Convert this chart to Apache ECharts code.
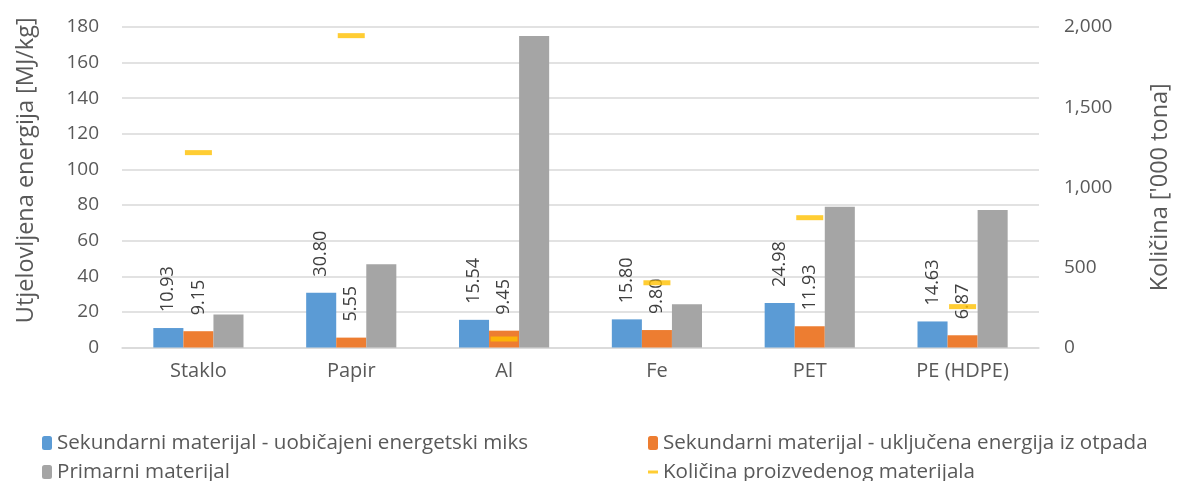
<!DOCTYPE html>
<html>
<head>
<meta charset="utf-8">
<script src="https://cdn.jsdelivr.net/npm/echarts@6/dist/echarts.min.js"></script>
<style>
  html, body { margin: 0; padding: 0; background: #fff; }
  #chart { width: 1180px; height: 481px; }
</style>
</head>
<body>
<div id="chart"></div>
<script>
// Materials on the category axis
const categories = ['Staklo', 'Papir', 'Al', 'Fe', 'PET', 'PE (HDPE)'];

// Embodied energy [MJ/kg]
const secondaryMix = [10.93, 30.80, 15.54, 15.80, 24.98, 14.63];
const secondaryWaste = [9.15, 5.55, 9.45, 9.80, 11.93, 6.87];
const primary = [18.6, 46.7, 174.9, 24.3, 79.1, 77.2];

// Produced quantity ['000 t]
const quantity = [1216, 1946, 53, 404, 810, 255];

const seriesNames = [
  'Sekundarni materijal - uobičajeni energetski miks',
  'Sekundarni materijal - uključena energija iz otpada',
  'Primarni materijal',
  'Količina proizvedenog materijala'
];

const FONT = '"Open Sans", Lato, sans-serif';
const TXT = '#595959';
const GRID = '#d9d9d9';

const valueLabel = {
  show: true,
  position: 'top',
  rotate: 90,
  align: 'left',
  verticalAlign: 'middle',
  distance: 16,
  color: '#404040',
  fontFamily: FONT,
  fontSize: 18,
  formatter: p => p.value.toFixed(2)
};

// one legend block per entry, laid out in two columns
function legendAt(left, top, entry) {
  return {
    left: left, top: top, orient: 'horizontal',
    itemWidth: 10, itemHeight: 14,
    textStyle: { color: TXT, fontSize: 20.6, fontFamily: FONT, lineHeight: 24 },
    data: [entry]
  };
}

const chart = echarts.init(document.getElementById('chart'), null, { renderer: 'canvas' });

chart.setOption({
  animation: false,
  textStyle: { fontFamily: FONT },
  grid: { left: 122, right: 134, top: 27, bottom: 133.5, containLabel: false },
  legend: [
    legendAt(37, 426, seriesNames[0]),
    legendAt(37, 455, seriesNames[2]),
    legendAt(643, 426, seriesNames[1]),
    legendAt(643, 455, { name: seriesNames[3], icon: 'path://M0,0H10V3H0Z' })
  ],
  xAxis: {
    type: 'category',
    data: categories,
    axisLine: { lineStyle: { color: GRID, width: 1.5 } },
    axisTick: { show: false },
    axisLabel: { color: TXT, fontSize: 20, fontFamily: FONT, margin: 14 }
  },
  yAxis: [
    {
      type: 'value', min: 0, max: 180, interval: 20,
      name: 'Utjelovljena energija [MJ/kg]',
      nameLocation: 'middle', nameGap: 84, nameRotate: 90,
      nameTextStyle: { color: TXT, fontSize: 23.5, fontFamily: FONT, padding: [0, 0, 0, 34] },
      axisLine: { show: false }, axisTick: { show: false },
      axisLabel: { color: TXT, fontSize: 19, fontFamily: FONT, margin: 23 },
      splitLine: { lineStyle: { color: GRID, width: 1.5 } }
    },
    {
      type: 'value', min: 0, max: 2000, interval: 500,
      name: "Količina ['000 tona]",
      nameLocation: 'middle', nameGap: 109, nameRotate: 90,
      nameTextStyle: { color: TXT, fontSize: 23.5, fontFamily: FONT },
      axisLine: { show: false }, axisTick: { show: false },
      axisLabel: {
        color: TXT, fontSize: 19, fontFamily: FONT, margin: 25,
        formatter: v => v.toLocaleString('en-US')
      },
      splitLine: { show: false }
    }
  ],
  series: [
    {
      name: seriesNames[0], type: 'bar', data: secondaryMix,
      barGap: '0%', barCategoryGap: '41%',
      itemStyle: { color: '#5b9bd5' },
      label: valueLabel
    },
    {
      name: seriesNames[1], type: 'bar', data: secondaryWaste,
      itemStyle: { color: '#ed7d31' },
      label: valueLabel
    },
    {
      name: seriesNames[2], type: 'bar', data: primary,
      itemStyle: { color: '#a5a5a5' }
    },
    {
      name: seriesNames[3], type: 'scatter', yAxisIndex: 1, data: quantity,
      symbol: 'rect', symbolSize: [27, 5],
      itemStyle: { color: '#ffc000' },
      z: 5
    }
  ]
});
</script>
</body>
</html>
